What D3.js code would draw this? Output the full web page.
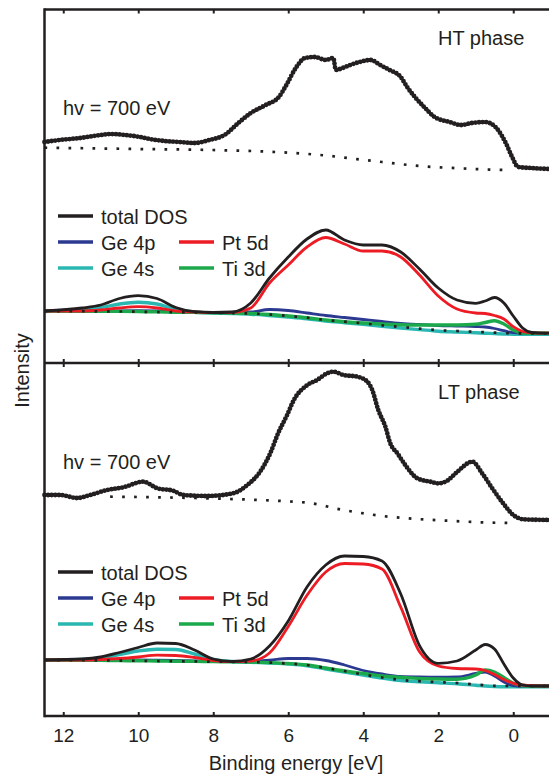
<!DOCTYPE html>
<meta charset="utf-8">
<script src="https://d3js.org/d3.v7.min.js"></script>
<body style="margin:0;background:#fff">
<div id="chart"></div>
<script>
    // energy grid of the calculated DOS curves [eV]
    var energy = [12.5, 11.5, 11, 10.5, 10, 9.5, 9, 8.5, 8, 7.5, 7, 6.5, 6, 5.5, 5, 4.5, 4, 3.5, 3, 2.5, 2, 1.5, 1, 0.75, 0.5, 0.25, 0, -0.25, -0.5, -1];

    // HT phase, DOS (arbitrary units, offset baseline included)
    var htBase  = [52, 51.8, 51.6, 51.5, 51.3, 51, 50.8, 50.6, 50.3, 50, 49.5, 48.5, 47, 45.3, 43, 41.3, 39.6, 37.7, 36, 34.4, 32.8, 32, 31.2, 30.8, 30.4, 30, 29.7, 29.7, 29.7, 29.7];
    var htTotal = [52, 55, 58, 64.5, 67.3, 64.5, 55.5, 51.3, 50.5, 51, 60, 85, 106, 124, 133, 123, 118, 118, 111, 94, 75, 63, 59.7, 62, 65.5, 60, 47, 35, 30.5, 29.8];
    var htPt5d  = [52, 52, 53, 55, 56.3, 55, 52, 51, 50.3, 50.5, 55, 80, 98, 116, 125.5, 119, 112, 112, 106, 88, 67, 54, 50, 49.5, 47.5, 44, 36.3, 31.5, 30.2, 29.8];
    var htGe4p  = [52, 52, 52, 52.2, 52.3, 52, 51.2, 50.8, 50.5, 50.5, 51, 53.5, 52.5, 50, 47.5, 45.5, 43.5, 41.5, 39.7, 38.5, 37.5, 37, 36.5, 36, 34.5, 32.3, 30.3, 29.8, 29.7, 29.7];
    var htGe4s  = [51.5, 53.5, 55.5, 59, 60.7, 59, 53.5, 50.8, 50, 49.5, 48.8, 47.5, 46, 44.3, 42, 40.3, 38.6, 36.7, 35, 33.4, 31.8, 31, 30.2, 29.8, 29.4, 29, 28.7, 28.7, 28.7, 28.7];
    var htTi3d  = [52, 51.8, 51.6, 51.6, 51.5, 51.1, 50.8, 50.6, 50.3, 50, 49.5, 48.5, 47, 45.3, 43, 41.3, 40, 39, 38.3, 38, 38, 38, 38.8, 40.5, 42.3, 39, 33, 30, 29.8, 29.7];

    // LT phase, DOS
    var ltBase  = [56, 55.8, 55.6, 55.4, 55.2, 55, 54.8, 54.6, 54.4, 54.2, 54, 53.4, 52.5, 51, 48, 45, 41.5, 38.5, 36, 34.8, 33.8, 33, 31.5, 30.7, 30.2, 30, 30, 30, 30, 30];
    var ltTotal = [56, 57, 59, 63.5, 68.5, 73, 72.5, 66, 57, 54.5, 57, 70, 95, 129, 151, 160, 159.5, 155, 122, 70.4, 52.7, 55, 66, 71.5, 67, 52, 38, 31, 30, 30];
    var ltPt5d  = [56, 56, 56.5, 57.5, 59, 60.8, 60.5, 58.5, 55.5, 54.3, 55, 63, 89.5, 120.7, 144, 152.5, 152, 147, 108.8, 64.2, 50, 47.5, 47, 45.5, 41.5, 36.5, 32.7, 31, 30.3, 30];
    var ltGe4p  = [56, 56, 56, 56, 56, 55.8, 55.5, 55, 54.6, 54.4, 54.6, 55.8, 57.5, 57.5, 55.5, 51, 45.5, 42, 39.5, 39, 38.8, 39, 42.5, 44, 40, 34, 30.5, 30, 30, 30];
    var ltGe4s  = [56, 56.5, 58, 61.5, 65, 66.8, 66.5, 62, 56.5, 54.5, 53.8, 53, 52, 50.3, 47, 44, 41, 38, 35.5, 34.2, 33.2, 32.3, 30.8, 30, 29.5, 29.3, 29.3, 29.3, 29.3, 29.3];
    var ltTi3d  = [56, 55.8, 55.6, 55.4, 55.2, 55, 54.8, 54.6, 54.4, 54.2, 54, 53.4, 52.5, 51, 48, 45, 42.5, 40, 38.7, 37.5, 37, 36.8, 41, 46, 44, 38.5, 32.7, 30.5, 30, 30];

    // measured spectra (hv = 700 eV)
    var htXpsE = [12.5, 12.1, 11.55, 11.0, 10.75, 10.35, 9.95, 9.7, 9.3, 8.9, 8.5, 8.1, 7.7, 7.3, 7.0, 6.6, 6.25, 6.05, 5.8, 5.55, 5.3, 5.0, 4.8, 4.73, 4.55, 4.35, 4.1, 3.8, 3.55, 3.3, 3.0, 2.83, 2.6, 2.35, 2.1, 1.7, 1.4, 1.1, 0.75, 0.45, 0.2, 0.03, -0.13, -0.45, -1];
    var htXpsI = [221, 223, 225, 228, 229, 228, 226, 224, 222, 221, 220, 223, 228, 241, 250, 258, 266, 278, 295, 305, 306, 303, 305, 293, 295, 298, 301, 303, 298, 293, 286, 276, 265, 255, 246, 241, 238, 240, 241, 235, 220, 206, 196, 195, 194];
    var htBgE = [12.5, 10, 8, 6, 5, 4.35, 3.5, 2.5, 1.5, 0.5, 0.15];
    var htBgI = [215.3, 214, 213, 210.3, 207.5, 204.7, 201, 197, 194.8, 193.3, 193];

    var ltXpsE = [12.5, 12.08, 11.63, 11.28, 10.83, 10.4, 9.87, 9.49, 9.07, 8.8, 8.16, 7.47, 7.09, 6.75, 6.48, 6.27, 6.03, 5.85, 5.49, 5.23, 4.96, 4.8, 4.53, 4.16, 3.89, 3.76, 3.6, 3.41, 3.28, 3.09, 2.88, 2.56, 2.21, 2.0, 1.76, 1.49, 1.09, 0.83, 0.56, 0.27, 0.0, -0.27, -1];
    var ltXpsI = [221, 221, 218, 221, 226, 228.7, 234.3, 227.7, 225.3, 221, 220, 222.7, 231, 244.3, 262.7, 282.7, 301, 316, 331, 336, 342.7, 344.3, 341, 339.3, 334.3, 326, 306, 289.3, 272.7, 262.7, 251, 237.7, 234.3, 232.7, 235.3, 244.3, 254.3, 242.7, 227.7, 212.7, 201, 196.7, 196];
    var ltBgE = [10.75, 8, 5.87, 5.49, 4.53, 3.55, 2.56, 1.6, 0.56, 0.1];
    var ltBgI = [219.3, 217.5, 214.3, 213.3, 206, 200.3, 197, 195, 193.3, 193];

    var tickValues = [12, 10, 8, 6, 4, 2, 0];

    var ink = "#231f20";
    var colors = { total: ink, ge4p: "#2b3990", ge4s: "#2ab7b1", pt5d: "#ed1c24", ti3d: "#1ba94c" };

    var width = 549, height = 777;
    var yTop = 9.5, yMid = 363, yBottom = 716, xLeft = 44.5;

    var svg = d3.select("#chart")
        .append("svg")
        .attr("width", width)
        .attr("height", height)
        .style("font-family", "'Liberation Sans', Arial, sans-serif")
        .style("fill", ink);

    var x = d3.scaleLinear().domain([12.5, -1]).range([xLeft, 550.75]);

    var panels = [
        { y0: yTop, y1: yMid, phase: "HT phase", base: htBase, total: htTotal, pt5d: htPt5d, ge4p: htGe4p, ge4s: htGe4s, ti3d: htTi3d,
          xpsE: htXpsE, xpsI: htXpsI, bgE: htBgE, bgI: htBgI, legendY: 206.5 },
        { y0: yMid, y1: yBottom, phase: "LT phase", base: ltBase, total: ltTotal, pt5d: ltPt5d, ge4p: ltGe4p, ge4s: ltGe4s, ti3d: ltTi3d,
          xpsE: ltXpsE, xpsI: ltXpsI, bgE: ltBgE, bgI: ltBgI, legendY: 209 }
    ];

    panels.forEach(function(p) {
        var y = d3.scaleLinear().domain([0, p.y1 - p.y0]).range([p.y1, p.y0]);
        var line = d3.line()
            .x(function(d) { return x(d[0]); })
            .y(function(d) { return y(d[1]); })
            .curve(d3.curveMonotoneX);
        var g = svg.append("g");

        // background of the measured spectrum
        g.append("path")
            .attr("d", line(d3.zip(p.bgE, p.bgI)))
            .attr("fill", "none")
            .attr("stroke", ink)
            .attr("stroke-width", 2.7)
            .attr("stroke-dasharray", "2.7 9.3");

        // measured spectrum
        g.append("path")
            .attr("d", line(d3.zip(p.xpsE, p.xpsI)))
            .attr("fill", "none")
            .attr("stroke", ink)
            .attr("stroke-width", 4.8)
            .attr("stroke-linecap", "round")
            .attr("stroke-linejoin", "round")
            .attr("stroke-dasharray", "0 3.6");

        // DOS curves
        ["ge4s", "ge4p", "ti3d", "pt5d", "total"].forEach(function(k) {
            g.append("path")
                .attr("d", line(d3.zip(energy, p[k])))
                .attr("fill", "none")
                .attr("stroke", colors[k])
                .attr("stroke-width", k == "ti3d" || k == "ge4s" ? 3.4 : 2.8);
        });
        g.append("path")
            .attr("d", line(d3.zip(energy, p.base)))
            .attr("fill", "none")
            .attr("stroke", ink)
            .attr("stroke-width", 2.7)
            .attr("stroke-dasharray", "2.7 9.8");

        // labels
        g.append("text").attr("x", 63).attr("y", p.y0 + 105.5)
            .attr("font-size", 20).text("hv = 700 eV");
        g.append("text").attr("x", 438).attr("y", p.y0 + 35.5)
            .attr("font-size", 20).text(p.phase);

        // legend
        var items = [
            { k: "total", name: "total DOS", c: 0, r: 0 },
            { k: "ge4p", name: "Ge 4p", c: 0, r: 1 },
            { k: "ge4s", name: "Ge 4s", c: 0, r: 2 },
            { k: "pt5d", name: "Pt 5d", c: 1, r: 1 },
            { k: "ti3d", name: "Ti 3d", c: 1, r: 2 }
        ];
        var lg = g.append("g").attr("transform", "translate(58," + (p.y0 + p.legendY) + ")");
        items.forEach(function(it) {
            var ox = it.c * 121, oy = it.r * 26;
            lg.append("line")
                .attr("x1", ox).attr("x2", ox + 35)
                .attr("y1", oy).attr("y2", oy)
                .attr("stroke", colors[it.k])
                .attr("stroke-width", 3.4);
            lg.append("text")
                .attr("x", ox + 43).attr("y", oy + 7.5)
                .attr("font-size", 20)
                .text(it.name);
        });
    });

    // axes and ticks
    function styleAxis(sel) {
        sel.select(".domain").remove();
        sel.selectAll(".tick line").attr("stroke", ink).attr("stroke-width", 2);
        sel.attr("font-family", null).attr("font-size", 19);
        sel.selectAll(".tick text").attr("fill", ink);
    }

    svg.append("g")
        .attr("transform", "translate(0," + yBottom + ")")
        .call(d3.axisBottom(x).tickValues(tickValues).tickSize(-4).tickPadding(13).tickFormat(d3.format("d")))
        .call(styleAxis);
    svg.append("g")
        .attr("transform", "translate(0," + yMid + ")")
        .call(d3.axisBottom(x).tickValues(tickValues).tickSize(-4).tickFormat(""))
        .call(styleAxis);
    svg.append("g")
        .attr("transform", "translate(0," + yMid + ")")
        .call(d3.axisTop(x).tickValues(tickValues).tickSize(-4).tickFormat(""))
        .call(styleAxis);
    svg.append("g")
        .attr("transform", "translate(0," + yTop + ")")
        .call(d3.axisTop(x).tickValues(tickValues).tickSize(-4).tickFormat(""))
        .call(styleAxis);

    // frame
    [yTop, yMid, yBottom].forEach(function(yy) {
        svg.append("line")
            .attr("x1", xLeft).attr("x2", 551)
            .attr("y1", yy).attr("y2", yy)
            .attr("stroke", ink).attr("stroke-width", 2.5);
    });
    svg.append("line")
        .attr("x1", xLeft).attr("x2", xLeft)
        .attr("y1", yTop - 1.25).attr("y2", yBottom + 1.25)
        .attr("stroke", ink).attr("stroke-width", 2.5);

    // axis titles
    svg.append("text")
        .attr("x", 296).attr("y", 770)
        .attr("text-anchor", "middle")
        .attr("font-size", 20)
        .text("Binding energy [eV]");
    svg.append("text")
        .attr("transform", "translate(29,370.5) rotate(-90)")
        .attr("text-anchor", "middle")
        .attr("font-size", 20)
        .text("Intensity");
</script>
</body>
